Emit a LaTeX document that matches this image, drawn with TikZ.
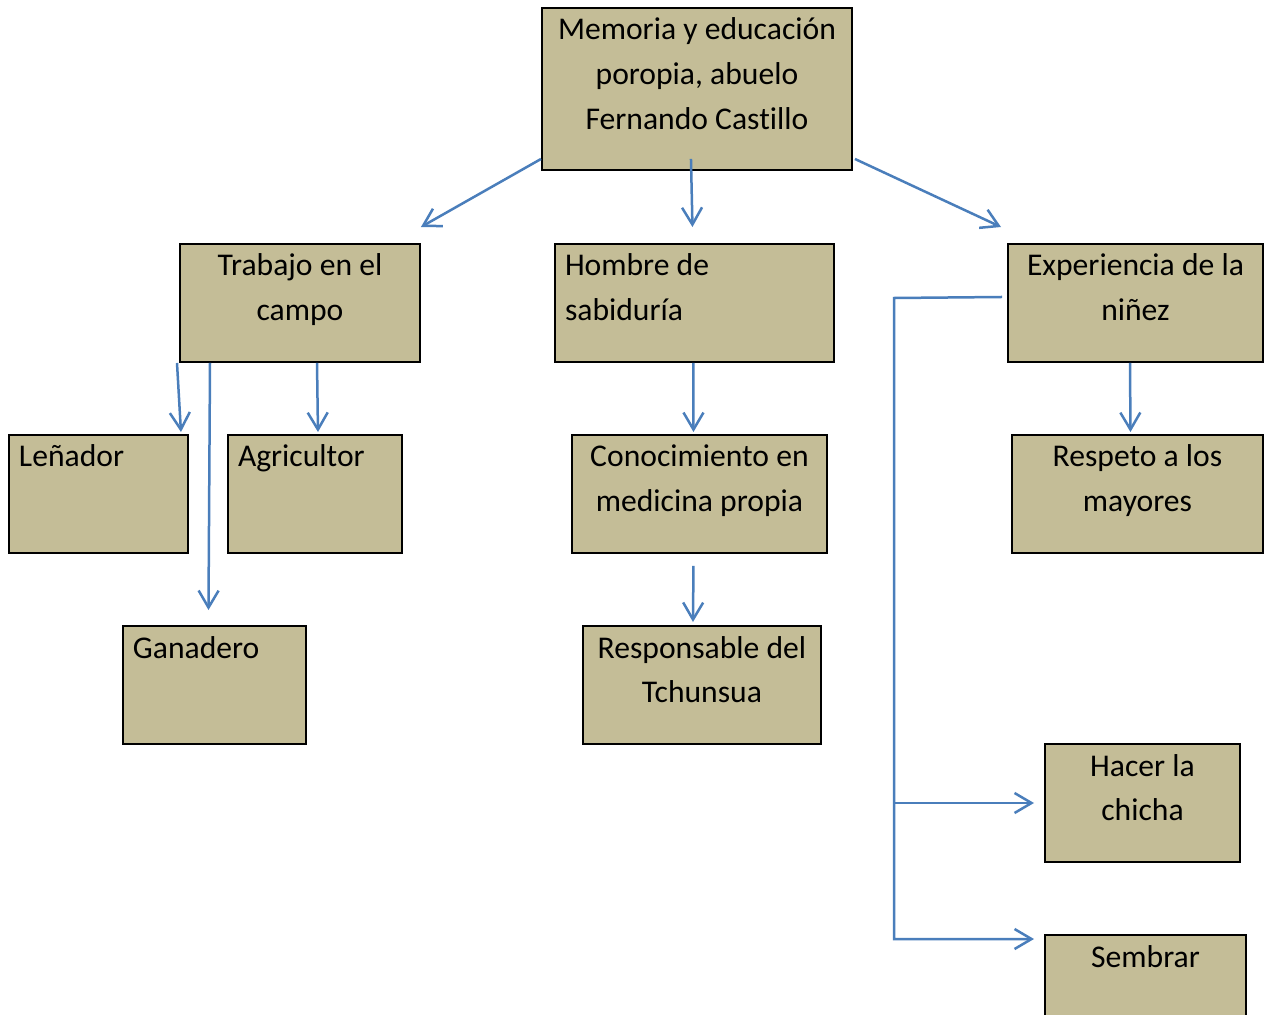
\documentclass[tikz,border=0pt]{standalone}
\usepackage{fontspec}
\setmainfont{Carlito}[Ligatures={NoCommon}]
\usetikzlibrary{arrows.meta, calc}
\usepackage{xcolor}
\definecolor{fondocaja}{HTML}{C4BD97}
\definecolor{azulflecha}{HTML}{4A7EBB}
\newcommand{\cajacentro}[3]{\parbox[t][#2][t]{#1}{\centering\rule{0pt}{0.64cm}#3}}
\newcommand{\cajaizq}[3]{\parbox[t][#2][t]{#1}{\raggedright\leftskip=0.2cm\rule{0pt}{0.64cm}#3}}

\begin{document}
\begin{tikzpicture}[x=0.02cm, y=-0.02cm,
  caja/.style={draw=black, line width=0.04cm, fill=fondocaja, rectangle, anchor=north west,
    inner sep=0pt, font=\fontsize{18pt}{0.9cm}\selectfont},
  flecha/.style={draw=azulflecha, line width=0.05cm, -{Straight Barb[length=0.34cm, width=0.4cm]}},
  linea/.style={draw=azulflecha, line width=0.05cm}]
\useasboundingbox (1,1) rectangle (1265,1015);

\node[caja] (memoria) at (542,8) {\cajacentro{6.2cm}{3.24cm}{Memoria y educación\\poropia, abuelo\\Fernando Castillo}};
\node[caja] (trabajo) at (180,244) {\cajacentro{4.8cm}{2.36cm}{Trabajo en el\\campo}};
\node[caja] (hombre) at (555,244) {\cajaizq{5.58cm}{2.36cm}{Hombre de\\sabiduría}};
\node[caja] (experiencia) at (1008,244) {\cajacentro{5.1cm}{2.36cm}{Experiencia de la\\niñez}};
\node[caja] (lenador) at (9,435) {\cajaizq{3.58cm}{2.36cm}{Leñador}};
\node[caja] (agricultor) at (228,435) {\cajaizq{3.48cm}{2.36cm}{Agricultor}};
\node[caja] (conocimiento) at (572,435) {\cajacentro{5.1cm}{2.36cm}{Conocimiento en\\medicina propia}};
\node[caja] (respeto) at (1012,435) {\cajacentro{5.02cm}{2.36cm}{Respeto a los\\mayores}};
\node[caja] (ganadero) at (123,626) {\cajaizq{3.66cm}{2.36cm}{Ganadero}};
\node[caja] (responsable) at (583,626) {\cajacentro{4.76cm}{2.36cm}{Responsable del\\Tchunsua}};
\node[caja] (chicha) at (1045,744) {\cajacentro{3.9cm}{2.36cm}{Hacer la\\chicha}};
\node[caja] (sembrar) at (1045,935) {\cajacentro{4.02cm}{2.36cm}{Sembrar}};

% desde la caja principal
\draw[flecha] ($(memoria.south west)+(0,-12)$) -- ($(trabajo.north east)+(0,-16)$);
\draw[flecha] ($(memoria.south)+(-6,-12)$) -- ($(hombre.north)+(-2,-16)$);
\draw[flecha] ($(memoria.south east)+(2,-12)$) -- ($(experiencia.north west)+(-6,-16)$);

% trabajo en el campo
\draw[flecha] ($(trabajo.south west)+(-2,0)$) -- ($(lenador.north east)+(-8,-2)$);
\draw[flecha] ($(trabajo.south west)+(31,0)$) -- ($(ganadero.north)+(-6,-15)$);
\draw[flecha] ($(trabajo.south west)+(138,0)$) -- ($(agricultor.north)+(3,-2)$);

% hombre de sabiduria
\draw[flecha] ($(hombre.south)+(-1,0)$) -- ($(conocimiento.north)+(-6,-2)$);
\draw[flecha] ($(conocimiento.south)+(-6,12)$) -- ($(responsable.north)+(-9,-3)$);

% experiencia de la niñez
\coordinate (tronco) at (895,299);
\draw[flecha] ($(experiencia.south west)+(123,0)$) -- ($(respeto.north)+(-7,-2)$);
\draw[flecha] ($(experiencia.west)+(-5,-6)$) -- (tronco) |- ($(sembrar.north west)+(-10,5)$);
\draw[flecha] (tronco |- chicha.west) -- ($(chicha.west)+(-10,0)$);
\end{tikzpicture}
\end{document}
